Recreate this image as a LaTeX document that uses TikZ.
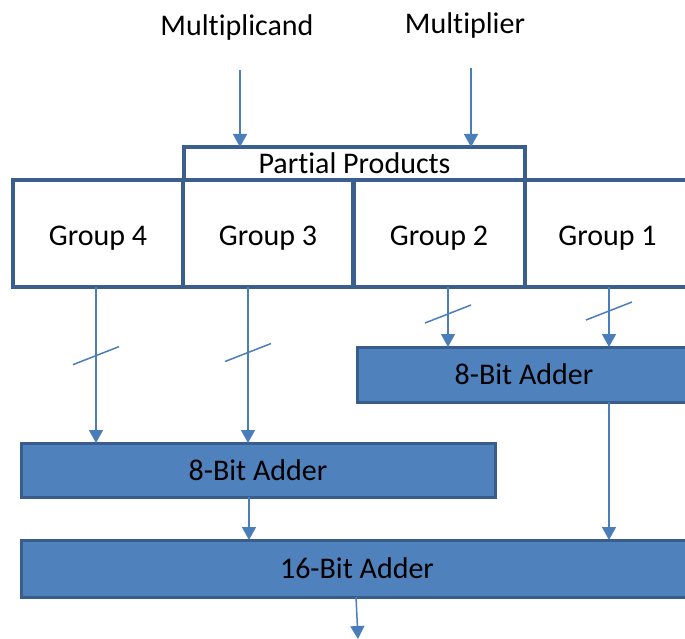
\documentclass[tikz,border=0pt]{standalone}
\usepackage{fontspec}
\setmainfont{Carlito}[Ligatures=NoCommon]
\usetikzlibrary{arrows.meta,calc}

\definecolor{boxline}{HTML}{3A5E8D}
\definecolor{adderfill}{HTML}{4F81BD}
\definecolor{adderline}{HTML}{385D8A}
\definecolor{wire}{HTML}{4A7EBB}

\tikzset{
  lbl/.style={font=\fontsize{30}{36}\selectfont, inner sep=0pt},
  groupbox/.style={draw=boxline, line width=3.5pt, fill=white, inner sep=0pt, outer sep=0pt,
    font=\fontsize{30}{36}\selectfont},
  grouplabel/.style={text height=23pt, text depth=0pt},
  adder/.style={draw=adderline, line width=3pt, fill=adderfill, inner sep=0pt, outer sep=0pt,
    font=\fontsize{30}{36}\selectfont},
  wirearrow/.style={draw=wire, line width=1.5pt, -{Triangle[width=14pt,length=13pt]}},
  slashline/.style={draw=wire, line width=1.5pt, -},
  busmark/.pic={\draw[slashline] (-23,9) -- (23,-9);}
}

\begin{document}
\begin{tikzpicture}[x=1pt,y=-1pt]
\useasboundingbox (0,0) rectangle (685,639);

% input labels
\node[lbl] (mcand) at (237,28) {Multiplicand};
\node[lbl] (mplier) at (465,26) {Multiplier};

% partial product generator
\node[groupbox, minimum width=341pt, minimum height=33pt] (pp) at (354.5,163.5) {Partial Products};
\node[groupbox, grouplabel, minimum width=170pt, minimum height=107pt] (g4) at (98,233.5) {Group 4};
\node[groupbox, grouplabel, minimum width=170pt, minimum height=107pt] (g3) at (268,233.5) {Group 3};
\node[groupbox, grouplabel, minimum width=172pt, minimum height=107pt] (g2) at (439,233.5) {Group 2};
\node[groupbox, grouplabel, minimum width=165pt, minimum height=107pt] (g1) at (607.5,233.5) {Group 1};
\draw[boxline, line width=5pt] (g3.north east) -- (g3.south east);

% adder tree
\node[adder, minimum width=334pt, minimum height=55pt] (addr) at (524,374.5) {8-Bit Adder};
\node[adder, minimum width=474pt, minimum height=54pt] (addl) at (258,470) {8-Bit Adder};
\node[adder, minimum width=672pt, minimum height=57pt] (add16) at (357,568.5) {16-Bit Adder};

% operand inputs
\coordinate (mcandin) at (240,70);
\coordinate (mplierin) at (471,68);
\draw[wirearrow] (mcandin) -- (mcandin |- pp.north);
\draw[wirearrow] (mplierin) -- (mplierin |- pp.north);

% group outputs (8-bit buses)
\draw[wirearrow] (g4.south -| 96,0) -- pic[pos=0.44]{busmark} (addl.north -| 96,0);
\draw[wirearrow] (g3.south -| 248,0) -- pic[pos=0.42]{busmark} (addl.north -| 248,0);
\draw[wirearrow] (g2.south -| 448,0) -- pic[pos=0.45]{busmark} (addr.north -| 448,0);
\draw[wirearrow] (g1.south -| 609,0) -- pic[pos=0.40]{busmark} (addr.north -| 609,0);

% sums into the 16-bit adder
\draw[wirearrow] (addl.south -| 249,0) -- (add16.north -| 249,0);
\draw[wirearrow] (addr.south -| 609,0) -- (add16.north -| 609,0);

% result
\coordinate (result) at (358,639);
\draw[wirearrow] (add16.south -| 356,0) -- (result);
\end{tikzpicture}
\end{document}
